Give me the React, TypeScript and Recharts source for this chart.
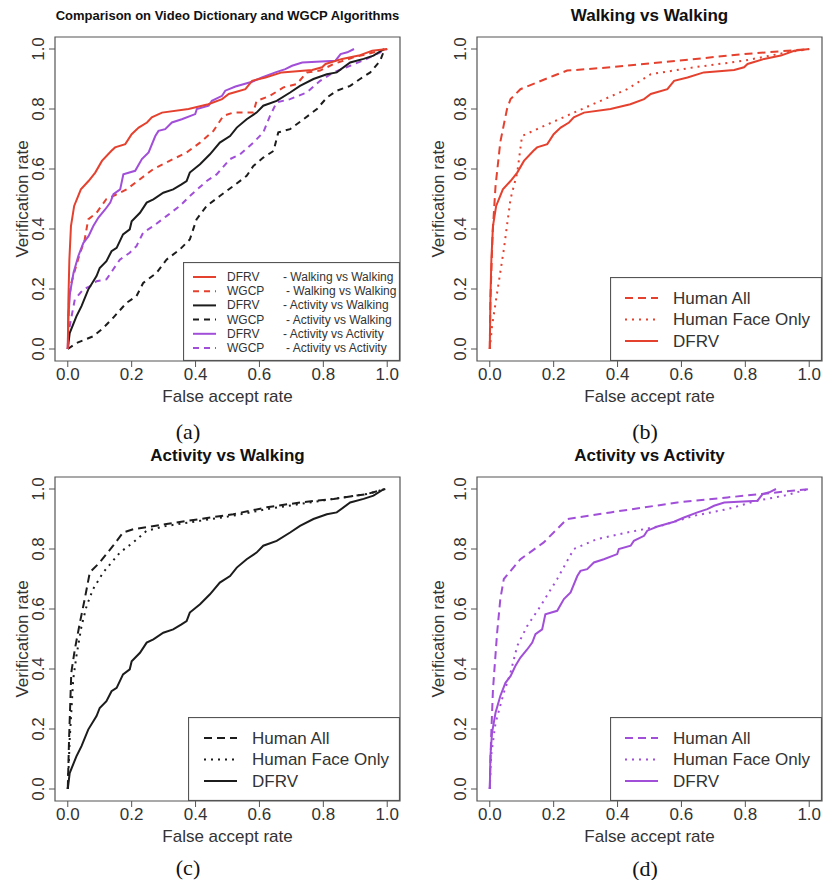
import { LineChart, Line, XAxis, YAxis, ReferenceArea, Legend, Label } from "recharts"

const ticks = [0, 0.2, 0.4, 0.6, 0.8, 1.0]

// Walking vs Walking
const wwDfrvX = [0, 0.002, 0.005, 0.01, 0.02, 0.041, 0.065, 0.086, 0.107, 0.136, 0.148, 0.18, 0.2, 0.222, 0.248, 0.263, 0.295, 0.378, 0.44, 0.483, 0.504, 0.556, 0.577, 0.619, 0.67, 0.765, 0.796, 0.807, 0.859, 0.911, 0.953, 1]
const wwDfrvY = [0, 0.165, 0.298, 0.41, 0.477, 0.532, 0.56, 0.588, 0.627, 0.66, 0.672, 0.683, 0.716, 0.738, 0.755, 0.772, 0.788, 0.8, 0.816, 0.833, 0.85, 0.866, 0.894, 0.905, 0.922, 0.93, 0.939, 0.95, 0.967, 0.978, 0.994, 1]
const wwWgcpX = [0, 0.004, 0.011, 0.032, 0.053, 0.064, 0.09, 0.121, 0.142, 0.184, 0.226, 0.268, 0.33, 0.372, 0.414, 0.456, 0.487, 0.518, 0.581, 0.591, 0.633, 0.675, 0.717, 0.748, 0.79, 0.832, 0.894, 1]
const wwWgcpY = [0, 0.165, 0.22, 0.298, 0.365, 0.432, 0.454, 0.5, 0.51, 0.532, 0.566, 0.6, 0.633, 0.655, 0.688, 0.727, 0.777, 0.788, 0.788, 0.827, 0.844, 0.872, 0.883, 0.922, 0.928, 0.95, 0.972, 1]
const wwHumanAllX = [0, 0.002, 0.009, 0.018, 0.033, 0.054, 0.065, 0.096, 0.2, 0.242, 0.378, 0.587, 0.796, 1]
const wwHumanAllY = [0, 0.165, 0.388, 0.543, 0.69, 0.8, 0.833, 0.866, 0.911, 0.928, 0.939, 0.961, 0.983, 1]
const wwFaceX = [0, 0.007, 0.023, 0.044, 0.065, 0.086, 0.101, 0.148, 0.253, 0.336, 0.43, 0.504, 0.64, 0.796, 0.932, 1]
const wwFaceY = [0, 0.076, 0.187, 0.332, 0.5, 0.588, 0.71, 0.733, 0.783, 0.822, 0.866, 0.916, 0.939, 0.961, 0.989, 1]

// Activity vs Walking
const awDfrvX = [0, 0.006, 0.027, 0.043, 0.064, 0.09, 0.1, 0.121, 0.137, 0.153, 0.173, 0.194, 0.2, 0.226, 0.247, 0.268, 0.299, 0.33, 0.356, 0.372, 0.382, 0.414, 0.445, 0.476, 0.508, 0.529, 0.56, 0.591, 0.612, 0.654, 0.696, 0.727, 0.769, 0.811, 0.842, 0.884, 0.926, 0.957, 0.99]
const awDfrvY = [0, 0.053, 0.109, 0.143, 0.198, 0.243, 0.27, 0.293, 0.326, 0.337, 0.382, 0.399, 0.426, 0.454, 0.488, 0.499, 0.521, 0.532, 0.549, 0.56, 0.588, 0.616, 0.649, 0.688, 0.71, 0.738, 0.766, 0.788, 0.811, 0.827, 0.855, 0.877, 0.9, 0.916, 0.922, 0.955, 0.967, 0.978, 1]
const awWgcpX = [0, 0.027, 0.079, 0.111, 0.142, 0.184, 0.215, 0.236, 0.278, 0.309, 0.351, 0.382, 0.403, 0.435, 0.476, 0.518, 0.56, 0.581, 0.612, 0.644, 0.659, 0.696, 0.738, 0.78, 0.811, 0.842, 0.884, 0.915, 0.947, 0.978, 0.988]
const awWgcpY = [0, 0.02, 0.042, 0.07, 0.104, 0.154, 0.176, 0.22, 0.254, 0.298, 0.332, 0.365, 0.432, 0.477, 0.51, 0.543, 0.577, 0.61, 0.638, 0.66, 0.722, 0.733, 0.766, 0.8, 0.838, 0.861, 0.877, 0.9, 0.922, 0.961, 0.989]
const awHumanAllX = [0, 0.004, 0.011, 0.022, 0.038, 0.053, 0.069, 0.1, 0.142, 0.173, 0.205, 0.309, 0.414, 0.518, 0.623, 0.727, 0.832, 0.936, 0.994]
const awHumanAllY = [0, 0.165, 0.388, 0.465, 0.555, 0.633, 0.722, 0.755, 0.811, 0.855, 0.866, 0.883, 0.9, 0.916, 0.939, 0.955, 0.967, 0.983, 1]
const awFaceX = [0, 0.006, 0.017, 0.027, 0.043, 0.059, 0.079, 0.111, 0.163, 0.205, 0.247, 0.309, 0.414, 0.518, 0.623, 0.727, 0.832, 0.936, 0.994]
const awFaceY = [0, 0.165, 0.365, 0.443, 0.543, 0.61, 0.666, 0.722, 0.788, 0.822, 0.861, 0.877, 0.894, 0.911, 0.933, 0.95, 0.967, 0.983, 1]

// Activity vs Activity
const aaDfrvX = [0, 0.002, 0.007, 0.018, 0.033, 0.049, 0.065, 0.08, 0.096, 0.117, 0.133, 0.143, 0.164, 0.174, 0.211, 0.232, 0.253, 0.274, 0.284, 0.305, 0.326, 0.357, 0.399, 0.404, 0.441, 0.451, 0.483, 0.493, 0.525, 0.577, 0.608, 0.65, 0.681, 0.702, 0.734, 0.838, 0.854, 0.875, 0.896]
const aaDfrvY = [0, 0.109, 0.187, 0.254, 0.31, 0.354, 0.376, 0.41, 0.438, 0.465, 0.488, 0.516, 0.532, 0.582, 0.594, 0.633, 0.655, 0.71, 0.727, 0.733, 0.755, 0.766, 0.783, 0.8, 0.811, 0.827, 0.844, 0.861, 0.875, 0.891, 0.905, 0.922, 0.933, 0.944, 0.955, 0.961, 0.983, 0.989, 1]
const aaWgcpX = [0, 0.006, 0.022, 0.048, 0.069, 0.09, 0.121, 0.142, 0.163, 0.194, 0.215, 0.236, 0.268, 0.309, 0.351, 0.382, 0.435, 0.466, 0.508, 0.539, 0.581, 0.612, 0.633, 0.654, 0.696, 0.748, 0.79, 0.832, 0.884, 0.936, 1]
const aaWgcpY = [0, 0.076, 0.165, 0.198, 0.209, 0.226, 0.232, 0.265, 0.298, 0.321, 0.343, 0.388, 0.41, 0.443, 0.477, 0.51, 0.56, 0.582, 0.633, 0.649, 0.688, 0.722, 0.777, 0.822, 0.833, 0.855, 0.894, 0.922, 0.944, 0.967, 1]
const aaHumanAllX = [0, 0.004, 0.01, 0.023, 0.033, 0.044, 0.096, 0.169, 0.242, 0.378, 0.587, 0.744, 0.848, 1]
const aaHumanAllY = [0, 0.165, 0.332, 0.521, 0.633, 0.7, 0.766, 0.822, 0.9, 0.922, 0.955, 0.972, 0.983, 1]
const aaFaceX = [0, 0.004, 0.018, 0.044, 0.065, 0.086, 0.117, 0.159, 0.211, 0.263, 0.336, 0.43, 0.535, 0.64, 0.744, 0.838, 0.922, 1]
const aaFaceY = [0, 0.109, 0.22, 0.321, 0.388, 0.477, 0.543, 0.61, 0.7, 0.8, 0.833, 0.855, 0.877, 0.911, 0.933, 0.961, 0.978, 1]

const RED = "#e5412f"
const PURPLE = "#a14fd8"
const BLACK = "#1c1c1c"
const DASH = "8 5"
const DOT = "2 5"
const SANS = "'Liberation Sans', Arial, sans-serif"

const zip = (xs: number[], ys: number[]) => xs.map((x, i) => ({ x, y: ys[i] }))

type Series = { name: string; note?: string; xs: number[]; ys: number[]; color: string; dash?: string }

const compareSeries: Series[] = [
  { name: "WGCP", note: "- Activity vs Walking", xs: awWgcpX, ys: awWgcpY, color: BLACK, dash: "6 5" },
  { name: "WGCP", note: "- Activity vs Activity", xs: aaWgcpX, ys: aaWgcpY, color: PURPLE, dash: "6 5" },
  { name: "WGCP", note: "- Walking vs Walking", xs: wwWgcpX, ys: wwWgcpY, color: RED, dash: "6 5" },
  { name: "DFRV", note: "- Activity vs Walking", xs: awDfrvX, ys: awDfrvY, color: BLACK },
  { name: "DFRV", note: "- Activity vs Activity", xs: aaDfrvX, ys: aaDfrvY, color: PURPLE },
  { name: "DFRV", note: "- Walking vs Walking", xs: wwDfrvX, ys: wwDfrvY, color: RED },
]
const compareLegendOrder = [5, 2, 3, 0, 4, 1]

const humanSeries = (color: string, all: [number[], number[]], face: [number[], number[]], dfrv: [number[], number[]]): Series[] => [
  { name: "Human All", xs: all[0], ys: all[1], color, dash: DASH },
  { name: "Human Face Only", xs: face[0], ys: face[1], color, dash: DOT },
  { name: "DFRV", xs: dfrv[0], ys: dfrv[1], color },
]

const YTick = ({ x, y, payload }: any) => (
  <text x={x - 5} y={y} transform={`rotate(-90 ${x - 5} ${y})`} textAnchor="middle" fontSize={17} fill="#333" fontFamily={SANS}>
    {Number(payload.value).toFixed(1)}
  </text>
)

type PanelProps = {
  left: number
  top: number
  width: number
  yAxisW: number
  marginRight: number
  yLabelX: number
  title: string
  titleSize: number
  caption: string
  captionX: number
  captionY: number
  series: Series[]
  legendBox: { x: number; y: number; w: number; h: number }
  legend: () => any
}

function Panel(p: PanelProps) {
  const plotL = p.yAxisW
  const plotR = p.width - p.marginRight
  const cx = (plotL + plotR) / 2
  return (
    <div style={{ position: "absolute", left: p.left, top: p.top, width: p.width, height: 440 }}>
      <LineChart width={p.width} height={440} margin={{ top: 37, right: p.marginRight, bottom: 0, left: 0 }}>
        <XAxis
          dataKey="x"
          type="number"
          domain={[-0.04, 1.04]}
          ticks={ticks}
          allowDataOverflow
          height={79}
          axisLine={false}
          tickLine={{ stroke: "#555" }}
          tickSize={6}
          tickMargin={1}
          tickFormatter={(v: number) => v.toFixed(1)}
          tick={{ fontSize: 17, fill: "#333", fontFamily: SANS }}
        >
          <Label
            content={() => (
              <text x={cx} y={396} textAnchor="middle" dominantBaseline="central" fontSize={17} fill="#333" fontFamily={SANS}>
                False accept rate
              </text>
            )}
          />
        </XAxis>
        <YAxis
          type="number"
          domain={[-0.04, 1.04]}
          ticks={ticks}
          allowDataOverflow
          width={p.yAxisW}
          axisLine={false}
          tickLine={{ stroke: "#555" }}
          tickSize={6}
          tickMargin={0}
          tick={<YTick />}
        >
          <Label
            content={() => (
              <text x={p.yLabelX} y={199} transform={`rotate(-90 ${p.yLabelX} 199)`} textAnchor="middle" dominantBaseline="central" fontSize={17} fill="#333" fontFamily={SANS}>
                Verification rate
              </text>
            )}
          />
        </YAxis>
        <ReferenceArea x1={-0.04} x2={1.04} y1={-0.04} y2={1.04} fill="none" stroke="#555" strokeWidth={1.2} />
        {p.series.map((s, i) => (
          <Line
            key={i}
            data={zip(s.xs, s.ys)}
            dataKey="y"
            name={s.name}
            type="linear"
            stroke={s.color}
            strokeWidth={2}
            strokeDasharray={s.dash}
            dot={false}
            activeDot={false}
            isAnimationActive={false}
          />
        ))}
        <Legend
          layout="horizontal"
          verticalAlign="middle"
          align="center"
          wrapperStyle={{ left: p.legendBox.x, top: p.legendBox.y, width: p.legendBox.w, height: p.legendBox.h }}
          content={p.legend}
        />
      </LineChart>
      <div style={{ position: "absolute", left: 0, width: 0, top: 0, marginLeft: cx, transform: "translateX(-50%)", whiteSpace: "nowrap", textAlign: "center" }}>
        <div style={{ position: "absolute", top: 16 - p.titleSize * 0.6, left: 0, transform: "translateX(-50%)", fontFamily: SANS, fontWeight: "bold", fontSize: p.titleSize, color: "#111" }}>
          {p.title}
        </div>
      </div>
      <div style={{ position: "absolute", left: p.captionX, top: p.captionY - 13, transform: "translateX(-50%)", fontFamily: "'Liberation Serif', 'DejaVu Serif', serif", fontSize: 22, color: "#111" }}>
        {p.caption}
      </div>
    </div>
  )
}

function CompareLegend() {
  return (
    <svg width={217} height={99} style={{ display: "block" }}>
      <rect x={0.5} y={0.5} width={216} height={98} fill="#fff" stroke="#555" strokeWidth={1.2} />
      {compareLegendOrder.map((idx, row) => {
        const s = compareSeries[idx]
        const y = 15 + row * 14.2
        return (
          <g key={row}>
            <line x1={10} x2={33} y1={y} y2={y} stroke={s.color} strokeWidth={2} strokeDasharray={s.dash} />
            <text x={44} y={y} dominantBaseline="central" fontSize={12} fill="#333" fontFamily={SANS}>{s.name}</text>
            <text x={s.dash ? 103 : 100} y={y} dominantBaseline="central" fontSize={12} fill="#333" fontFamily={SANS}>{s.note}</text>
          </g>
        )
      })}
    </svg>
  )
}

const humanLegend = (series: Series[], lineX: number, textX: number) => () => (
  <svg width={212} height={84} style={{ display: "block" }}>
    <rect x={0.5} y={0.5} width={211} height={83} fill="#fff" stroke="#555" strokeWidth={1.2} />
    {series.map((s, row) => {
      const y = 21 + row * 21.5
      return (
        <g key={row}>
          <line x1={lineX} x2={lineX + 33} y1={y} y2={y} stroke={s.color} strokeWidth={2} strokeDasharray={s.dash} />
          <text x={textX} y={y} dominantBaseline="central" fontSize={17} fill="#333" fontFamily={SANS}>{s.name}</text>
        </g>
      )
    })}
  </svg>
)

const wwSeries = humanSeries(RED, [wwHumanAllX, wwHumanAllY], [wwFaceX, wwFaceY], [wwDfrvX, wwDfrvY])
const awSeries = humanSeries(BLACK, [awHumanAllX, awHumanAllY], [awFaceX, awFaceY], [awDfrvX, awDfrvY])
const aaSeries = humanSeries(PURPLE, [aaHumanAllX, aaHumanAllY], [aaFaceX, aaFaceY], [aaDfrvX, aaDfrvY])

export default function App() {
  return (
    <div style={{ position: "absolute", left: 0, top: 0, width: 823, height: 880, background: "#fff" }}>
      <Panel
        left={0} top={0} width={410} yAxisW={55} marginRight={10} yLabelX={22}
        title="Comparison on Video Dictionary and WGCP Algorithms" titleSize={13}
        caption="(a)" captionX={188} captionY={432}
        series={compareSeries}
        legendBox={{ x: 183, y: 262, w: 217, h: 99 }}
        legend={CompareLegend}
      />
      <Panel
        left={410} top={0} width={413} yAxisW={67} marginRight={1} yLabelX={28}
        title="Walking vs Walking" titleSize={17}
        caption="(b)" captionX={235} captionY={432}
        series={wwSeries}
        legendBox={{ x: 200, y: 277, w: 212, h: 84 }}
        legend={humanLegend(wwSeries, 15, 63)}
      />
      <Panel
        left={0} top={440} width={410} yAxisW={55} marginRight={10} yLabelX={22}
        title="Activity vs Walking" titleSize={17}
        caption="(c)" captionX={188} captionY={428}
        series={awSeries}
        legendBox={{ x: 188, y: 277, w: 212, h: 84 }}
        legend={humanLegend(awSeries, 16, 64)}
      />
      <Panel
        left={410} top={440} width={413} yAxisW={67} marginRight={1} yLabelX={28}
        title="Activity vs Activity" titleSize={17}
        caption="(d)" captionX={235} captionY={429}
        series={aaSeries}
        legendBox={{ x: 200, y: 277, w: 212, h: 84 }}
        legend={humanLegend(aaSeries, 15, 63)}
      />
    </div>
  )
}
